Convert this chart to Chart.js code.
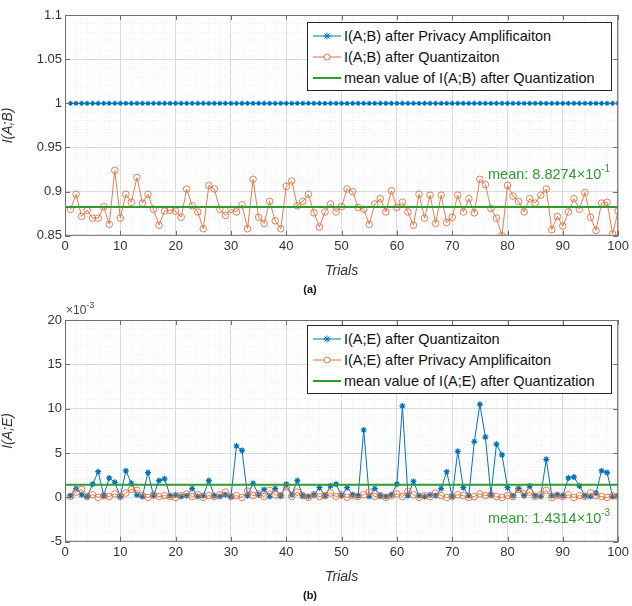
<!DOCTYPE html>
<html>
<head>
<meta charset="utf-8">
<script src="https://cdn.jsdelivr.net/npm/chart.js@4.4.0/dist/chart.umd.min.js"></script>
<style>
    body { margin: 0; background: #fff; width: 632px; height: 606px; position: relative; overflow: hidden; font-family: 'Liberation Sans', Arial, sans-serif; }
    .wrap { position: absolute; left: 0; width: 632px; }
    .legend { position: absolute; left: 307px; width: 305px; background: #fff; border: 1px solid #262626; font-size: 14.5px; color: #111; padding: 2px 0; box-sizing: border-box; }
    .legend .row { display: flex; align-items: center; height: 21px; white-space: nowrap; }
    .legend svg { margin: 0 3px 0 5px; flex: none; }
</style>
</head>
<body>
<div class="wrap" style="top:0;height:300px"><canvas id="chartA"></canvas></div>
<div class="wrap" style="top:300px;height:306px"><canvas id="chartB"></canvas></div>
<div class="legend" id="legendA" style="top:22px"></div>
<div class="legend" id="legendB" style="top:325px"></div>
<script>
// x values: trial number
const trials = Array.from({ length: 100 }, (_, i) => i + 1);

// (a) I(A;B)
const abPrivacy = [
    1, 1, 1, 1, 1, 1, 1, 1, 1, 1, 1, 1, 1, 1, 1, 1, 1, 1, 1, 1,
    1, 1, 1, 1, 1, 1, 1, 1, 1, 1, 1, 1, 1, 1, 1, 1, 1, 1, 1, 1,
    1, 1, 1, 1, 1, 1, 1, 1, 1, 1, 1, 1, 1, 1, 1, 1, 1, 1, 1, 1,
    1, 1, 1, 1, 1, 1, 1, 1, 1, 1, 1, 1, 1, 1, 1, 1, 1, 1, 1, 1,
    1, 1, 1, 1, 1, 1, 1, 1, 1, 1, 1, 1, 1, 1, 1, 1, 1, 1, 1, 1
];
const abQuant = [
    0.880, 0.897, 0.872, 0.879, 0.870, 0.870, 0.883, 0.863, 0.924, 0.870,
    0.897, 0.888, 0.916, 0.887, 0.897, 0.880, 0.862, 0.878, 0.879, 0.878,
    0.871, 0.903, 0.884, 0.877, 0.858, 0.907, 0.903, 0.880, 0.873, 0.880,
    0.877, 0.885, 0.858, 0.914, 0.871, 0.864, 0.889, 0.867, 0.858, 0.906,
    0.912, 0.884, 0.889, 0.897, 0.876, 0.860, 0.877, 0.886, 0.877, 0.883,
    0.903, 0.900, 0.882, 0.880, 0.863, 0.886, 0.892, 0.877, 0.901, 0.882,
    0.888, 0.877, 0.862, 0.897, 0.870, 0.896, 0.864, 0.896, 0.865, 0.871,
    0.896, 0.877, 0.892, 0.876, 0.914, 0.908, 0.881, 0.870, 0.850, 0.907,
    0.895, 0.889, 0.877, 0.892, 0.887, 0.896, 0.903, 0.857, 0.872, 0.861,
    0.877, 0.892, 0.880, 0.899, 0.871, 0.856, 0.887, 0.888, 0.852, 0.878
];
const abMean = 0.88274;

// (b) I(A;E), in units of 1e-3
const aeQuant = [
    0.2, 1.0, 0.3, 0.1, 1.5, 2.9, 0.2, 2.2, 1.7, 0.1,
    3.0, 1.6, 0.3, 0.1, 2.8, 0.2, 1.9, 2.1, 0.2, 0.3,
    0.1, 0.2, 1.0, 0.1, 0.2, 1.9, 0.2, 0.1, 0.3, 0.1,
    5.8, 5.3, 0.2, 1.6, 0.3, 0.9, 0.1, 1.0, 0.2, 1.5,
    0.3, 1.9, 0.2, 0.1, 0.3, 1.1, 0.2, 1.3, 1.5, 0.2,
    1.1, 0.3, 0.2, 7.6, 0.1, 1.0, 0.2, 0.1, 0.3, 1.5,
    10.3, 0.2, 1.8, 0.2, 0.1, 0.3, 0.2, 1.0, 2.9, 0.1,
    5.2, 1.1, 0.2, 6.3, 10.5, 6.8, 0.3, 6.0, 4.8, 1.1,
    0.2, 1.0, 0.2, 1.3, 0.2, 0.1, 4.3, 0.2, 0.3, 0.2,
    2.2, 2.3, 1.3, 0.2, 0.1, 0.5, 3.0, 2.8, 0.1, 0.2
];
const aePrivacy = [
    0.1, 0.6, 0.9, 0.1, 0.3, 0.0, 0.2, 0.1, 0.4, 0.1,
    0.5, 0.9, 0.8, 0.2, 0.0, 0.3, 0.1, 0.2, 0.1, 0.0,
    0.2, 0.4, 0.1, 0.3, 0.0, 0.2, 0.1, 0.3, 0.6, 0.1,
    0.2, 0.0, 0.7, 0.2, 0.4, 0.1, 0.8, 0.3, 0.2, 1.2,
    0.1, 0.6, 0.2, 0.0, 0.3, 0.1, 0.2, 0.5, 0.1, 0.3,
    0.0, 0.2, 0.1, 0.3, 0.6, 0.1, 0.2, 0.0, 0.2, 0.4,
    0.1, 0.7, 0.3, 0.0, 0.2, 0.1, 0.5, 0.2, 0.0, 0.1,
    0.3, 0.2, 0.0, 0.1, 0.4, 0.2, 0.3, 0.1, 0.0, 0.2,
    0.1, 0.9, 0.4, 0.6, 0.1, 0.3, 0.8, 0.0, 0.2, 0.1,
    0.3, 0.0, 0.2, 0.1, 0.5, 0.2, 0.1, 0.0, 0.2, 0.1
];
const aeMean = 1.4314;

const BLUE = '#0072BD';
const ORANGE = '#E0703F';
const GREEN = '#2E9A30';
const FONT = "'Liberation Sans', Arial, sans-serif";

function isMajor(v, major) {
    const r = v / major;
    return Math.abs(r - Math.round(r)) < 1e-6;
}

function pts(ys) {
    return trials.map((t, i) => ({ x: t, y: ys[i] }));
}

function meanLine(m) {
    return [{ x: 0, y: m }, { x: 100, y: m }];
}

function axis(min, max, minor, major, fmt, extra) {
    return Object.assign({
        type: 'linear',
        min: min,
        max: max,
        grid: {
            color: c => isMajor(c.tick.value - min, major) ? '#dadada' : '#ececec',
            lineWidth: 1,
            drawTicks: false
        },
        border: {
            display: false,
            dash: c => isMajor(c.tick.value - min, major) ? [] : [1, 2]
        },
        ticks: {
            stepSize: minor,
            autoSkip: false,
            maxTicksLimit: 200,
            maxRotation: 0,
            color: '#333',
            font: { family: FONT, size: 13 },
            callback: v => isMajor(v - min, major) ? fmt(v) : ''
        }
    }, extra);
}

// box around the plot area + small inward ticks
const boxPlugin = {
    id: 'box',
    afterDraw(chart) {
        const a = chart.chartArea;
        const ctx = chart.ctx;
        ctx.save();
        ctx.strokeStyle = '#6e6e6e';
        ctx.lineWidth = 1;
        ctx.strokeRect(a.left + 0.5, a.top + 0.5, a.right - a.left - 1, a.bottom - a.top - 1);
        const xs = chart.scales.x;
        const ys = chart.scales.y;
        ctx.beginPath();
        xs.ticks.forEach(t => {
            if (!isMajor(t.value, 10)) return;
            const px = Math.round(xs.getPixelForValue(t.value)) + 0.5;
            ctx.moveTo(px, a.bottom); ctx.lineTo(px, a.bottom - 5);
            ctx.moveTo(px, a.top); ctx.lineTo(px, a.top + 5);
        });
        ys.ticks.forEach(t => {
            if (!isMajor(t.value - ys.min, chart.options.majorY)) return;
            const py = Math.round(ys.getPixelForValue(t.value)) + 0.5;
            ctx.moveTo(a.left, py); ctx.lineTo(a.left + 5, py);
            ctx.moveTo(a.right, py); ctx.lineTo(a.right - 5, py);
        });
        ctx.stroke();
        ctx.restore();
    }
};

// "mean: m x 10^e" text near the green line, and the axis exponent
const notePlugin = {
    id: 'note',
    afterDatasetsDraw(chart, args, opts) {
        const ctx = chart.ctx;
        const a = chart.chartArea;
        const ys = chart.scales.y;
        ctx.save();
        ctx.fillStyle = GREEN;
        ctx.textBaseline = 'alphabetic';
        const base = opts.text;
        const sup = opts.sup;
        ctx.font = '14.5px ' + FONT;
        const wBase = ctx.measureText(base).width;
        ctx.font = '10px ' + FONT;
        const wSup = ctx.measureText(sup).width;
        const right = a.right - 8;
        const y = ys.getPixelForValue(opts.mean) + opts.dy;
        ctx.font = '14.5px ' + FONT;
        ctx.fillText(base, right - wSup - wBase, y);
        ctx.font = '10px ' + FONT;
        ctx.fillText(sup, right - wSup, y - 7);
        if (opts.exp) {
            ctx.fillStyle = '#444';
            ctx.font = '12px ' + FONT;
            ctx.fillText('\u00d710', a.left + 1, a.top - 6);
            const w = ctx.measureText('\u00d710').width;
            ctx.font = '9px ' + FONT;
            ctx.fillText(opts.exp, a.left + 1 + w, a.top - 12);
        }
        ctx.restore();
    }
};

function makeChart(id, cfg) {
    return new Chart(document.getElementById(id), {
        type: 'line',
        data: { datasets: cfg.datasets },
        options: {
            responsive: true,
            maintainAspectRatio: false,
            animation: false,
            majorY: cfg.majorY,
            layout: { padding: { top: cfg.padTop, right: 12, left: 0, bottom: 0 } },
            scales: {
                x: axis(0, 100, 2, 10, v => String(v), {
                    afterFit: s => { s.height = 44; },
                    title: { display: true, text: 'Trials', color: '#333', padding: { top: 0, bottom: 0 }, font: { family: FONT, size: 14, style: 'italic' } }
                }),
                y: axis(cfg.ymin, cfg.ymax, cfg.minorY, cfg.majorY, cfg.fmtY, {
                    afterFit: s => { s.width = 65; },
                    title: { display: true, text: cfg.ytitle, color: '#333', padding: { top: 0, bottom: 6 }, font: { family: FONT, size: 14, style: 'italic' } }
                })
            },
            plugins: {
                legend: { display: false },
                tooltip: { enabled: false },
                title: { display: true, text: cfg.label, position: 'bottom', color: '#111', padding: { top: 4, bottom: 3 }, font: { family: FONT, size: 11, weight: 'bold' } },
                note: cfg.note
            }
        },
        plugins: [boxPlugin, notePlugin]
    });
}

function starSet(label, ys, r) {
    return { label: label, data: pts(ys), borderColor: BLUE, backgroundColor: BLUE, borderWidth: 1, pointStyle: 'star', pointRadius: r, pointBorderWidth: 1.2, tension: 0 };
}
function circleSet(label, ys) {
    return { label: label, data: pts(ys), borderColor: ORANGE, backgroundColor: 'rgba(0,0,0,0)', borderWidth: 0.9, pointStyle: 'circle', pointRadius: 3.3, pointBorderWidth: 0.9, tension: 0 };
}
function meanSet(label, m) {
    return { label: label, data: meanLine(m), borderColor: GREEN, borderWidth: 2, pointRadius: 0 };
}

const abSets = [
    Object.assign(starSet('I(A;B) after Privacy Amplificaiton', abPrivacy, 2.5), { order: 3 }),
    Object.assign(circleSet('I(A;B) after Quantizaiton', abQuant), { order: 2 }),
    Object.assign(meanSet('mean value of I(A;B) after Quantization', abMean), { order: 1 })
];
const aeSets = [
    Object.assign(starSet('I(A;E) after Quantizaiton', aeQuant, 3), { order: 3 }),
    Object.assign(circleSet('I(A;E) after Privacy Amplificaiton', aePrivacy), { order: 2 }),
    Object.assign(meanSet('mean value of I(A;E) after Quantization', aeMean), { order: 1 })
];

makeChart('chartA', {
    datasets: abSets, padTop: 15, ymin: 0.85, ymax: 1.1, minorY: 0.01, majorY: 0.05,
    fmtY: v => String(+v.toFixed(2)), ytitle: 'I(A;B)', label: '(a)',
    note: { text: 'mean: 8.8274\u00d710', sup: '-1', mean: abMean, dy: -28 }
});
makeChart('chartB', {
    datasets: aeSets, padTop: 20, ymin: -5, ymax: 20, minorY: 1, majorY: 5,
    fmtY: v => String(Math.round(v)), ytitle: 'I(A;E)', label: '(b)',
    note: { text: 'mean: 1.4314\u00d710', sup: '-3', mean: aeMean, dy: 38, exp: '-3' }
});

// legends built from the dataset labels
function sample(kind, color) {
    let mark = '';
    if (kind === 'star') {
        mark = `<path d="M14 6.5v7M10.5 10h7M11.5 7.5l5 5M16.5 7.5l-5 5" stroke="${color}" stroke-width="1"/>`;
    } else if (kind === 'circle') {
        mark = `<circle cx="14" cy="10" r="3" fill="#fff" stroke="${color}" stroke-width="0.9"/>`;
    }
    const w = kind === 'line' ? 2 : 1;
    return `<svg width="28" height="20"><line x1="0" y1="10" x2="28" y2="10" stroke="${color}" stroke-width="${w}"/>${mark}</svg>`;
}
function buildLegend(id, sets, kinds) {
    const el = document.getElementById(id);
    el.innerHTML = sets.map((d, i) => `<div class="row">${sample(kinds[i], d.borderColor)}<span>${d.label}</span></div>`).join('');
}
buildLegend('legendA', abSets, ['star', 'circle', 'line']);
buildLegend('legendB', aeSets, ['star', 'circle', 'line']);
</script>
</body>
</html>
